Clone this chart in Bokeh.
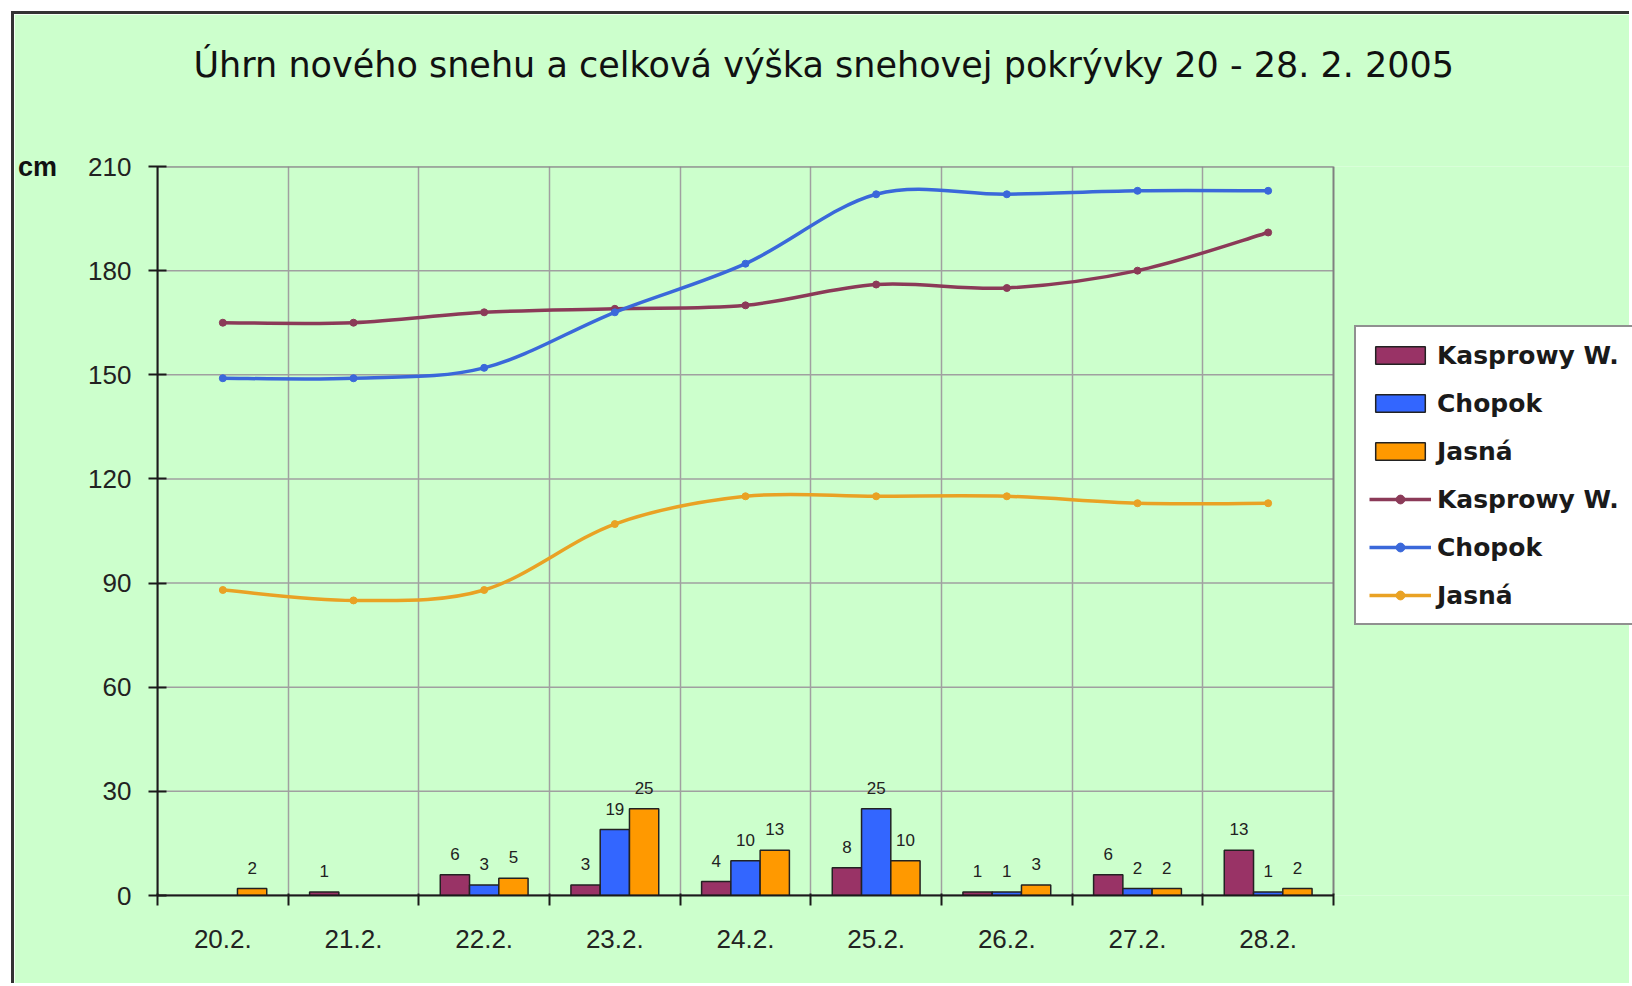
import numpy as np
from bokeh.plotting import figure
from bokeh.models import (Range1d, FixedTicker, ColumnDataSource, LabelSet, Title,
                          Legend, LegendItem)
from bokeh.core.properties import value
from bokeh.embed import file_html
from bokeh.resources import INLINE

# ---------------- data ----------------
dates = ["20.2.", "21.2.", "22.2.", "23.2.", "24.2.", "25.2.", "26.2.", "27.2.", "28.2."]
stations = ["Kasprowy W.", "Chopok", "Jasná"]

# new snow (cm) - bars
new_kasprowy = [None, 1, 6, 3, 4, 8, 1, 6, 13]
new_chopok = [None, None, 3, 19, 10, 25, 1, 2, 1]
new_jasna = [2, None, 5, 25, 13, 10, 3, 2, 2]

# total snow depth (cm) - lines
total_kasprowy = [165, 165, 168, 169, 170, 176, 175, 180, 191]
total_chopok = [149, 149, 152, 168, 182, 202, 202, 203, 203]
total_jasna = [88, 85, 88, 107, 115, 115, 115, 113, 113]

y_ticks = [0, 30, 60, 90, 120, 150, 180, 210]

title_text = "Úhrn nového snehu a celková výška snehovej pokrývky 20 - 28. 2. 2005"
unit_text = "cm"

bar_colors = ["#993366", "#3366FF", "#FF9900"]
line_colors = ["#8B3A58", "#3A68DA", "#E9A224"]
GREEN = "#CCFFCC"
GRID = "#a0a0a0"

# ---------------- layout numbers ----------------
W, H = 1618, 972
border_left, border_top, border_bottom = 143, 152, 91
plot_area_px = 1176                    # width of the drawn plot area
frame_px = W - border_left             # frame runs to the right edge (legend lives in it)
n = len(dates)
x_end = n * frame_px / plot_area_px

# ---------------- figure ----------------
p = figure(width=W, height=H,
           x_range=Range1d(0, x_end), y_range=Range1d(y_ticks[0], y_ticks[-1]),
           output_backend="svg", toolbar_location=None,
           min_border_left=border_left, min_border_top=border_top,
           min_border_right=0, min_border_bottom=border_bottom,
           background_fill_color=GREEN, border_fill_color=GREEN,
           outline_line_color=None,
           styles={"margin-left": "11px", "margin-top": "11px",
                   "border-left": "3px solid #333333", "border-top": "3px solid #333333"})

# spacer between frame and title, then the title itself
p.add_layout(Title(text=" ", text_font_size="1px", standoff=79), "above")
p.add_layout(Title(text=title_text, align="left", offset=36, standoff=0,
                   text_font="DejaVu Sans", text_font_size="35px", text_font_style="normal",
                   text_color="#111111"), "above")

centers = [i + 0.5 for i in range(n)]

# x axis: labels at category centres, tick marks at category boundaries
p.xaxis.bounds = (0, n)
p.xaxis.ticker = FixedTicker(ticks=centers, minor_ticks=list(range(n + 1)))
p.xaxis.major_label_overrides = {c: d for c, d in zip(centers, dates)}
p.xaxis.major_tick_line_color = None
p.xaxis.major_tick_out = 10
p.xaxis.major_tick_in = 0
p.xaxis.minor_tick_out = 10
p.xaxis.minor_tick_in = 2
p.xaxis.minor_tick_line_color = "#1a1a1a"
p.xaxis.minor_tick_line_width = 2
p.xaxis.axis_line_color = "#1a1a1a"
p.xaxis.axis_line_width = 2
p.xaxis.major_label_standoff = 24
p.xaxis.major_label_text_font = "Liberation Sans"
p.xaxis.major_label_text_font_size = "26px"
p.xaxis.major_label_text_color = "#222222"

p.yaxis.ticker = FixedTicker(ticks=y_ticks)
p.yaxis.major_tick_in = 9
p.yaxis.major_tick_out = 9
p.yaxis.major_tick_line_color = "#1a1a1a"
p.yaxis.major_tick_line_width = 2
p.yaxis.minor_tick_line_color = None
p.yaxis.axis_line_color = "#1a1a1a"
p.yaxis.axis_line_width = 2
p.yaxis.major_label_standoff = 17
p.yaxis.major_label_text_font = "Liberation Sans"
p.yaxis.major_label_text_font_size = "26px"
p.yaxis.major_label_text_color = "#222222"
p.yaxis.axis_label = unit_text
p.yaxis.axis_label_orientation = "horizontal"
p.yaxis.axis_label_align = "end"
p.yaxis.axis_label_standoff = 28
p.yaxis.axis_label_text_font = "Liberation Sans"
p.yaxis.axis_label_text_font_style = "bold"
p.yaxis.axis_label_text_font_size = "27px"
p.yaxis.axis_label_text_color = "#111111"

# vertical grid lines at category boundaries (built-in grid)
p.xgrid.ticker = FixedTicker(ticks=list(range(1, n)))
p.xgrid.grid_line_color = GRID
p.xgrid.grid_line_width = 1.5
# horizontal grid lines only across the plot area
p.ygrid.grid_line_color = None
p.segment(x0=[0] * len(y_ticks), x1=[n] * len(y_ticks), y0=y_ticks, y1=y_ticks,
          line_color=GRID, line_width=1.5)
# plot-area border
p.quad(left=[0], right=[n], bottom=[y_ticks[0]], top=[y_ticks[-1]],
       fill_color=None, line_color="#808080", line_width=2)

# ---------------- bars ----------------
bar_w = 0.224
offsets = [-bar_w, 0.0, bar_w]
bar_renderers = []
for series, off, col in zip([new_kasprowy, new_chopok, new_jasna], offsets, bar_colors):
    xs, tops, labs = [], [], []
    for c, v in zip(centers, series):
        if v is not None:
            xs.append(c + off)
            tops.append(v)
            labs.append(str(v))
    src = ColumnDataSource(dict(x=xs, top=tops, lab=labs))
    r = p.vbar(x="x", top="top", bottom=0, width=bar_w, source=src,
               fill_color=col, line_color="#222222", line_width=1.5)
    bar_renderers.append(r)
    p.add_layout(LabelSet(x="x", y="top", text="lab", source=src, y_offset=21,
                          text_align="center", text_baseline="middle",
                          text_font=value("Liberation Sans"), text_font_size="17px",
                          text_color="#222222"))

# ---------------- smoothed lines ----------------
line_renderers = []
for series, col in zip([total_kasprowy, total_chopok, total_jasna], line_colors):
    xs = np.array(centers, dtype=float)
    ys = np.array(series, dtype=float)
    m = len(xs)
    x0, y0, x1, y1, cx0, cy0, cx1, cy1 = ([] for _ in range(8))
    for i in range(m - 1):
        ip = max(i - 1, 0)
        inn = min(i + 2, m - 1)
        x0.append(xs[i]); y0.append(ys[i])
        x1.append(xs[i + 1]); y1.append(ys[i + 1])
        cx0.append(xs[i] + (xs[i + 1] - xs[ip]) / 6.0)
        cy0.append(ys[i] + (ys[i + 1] - ys[ip]) / 6.0)
        cx1.append(xs[i + 1] - (xs[inn] - xs[i]) / 6.0)
        cy1.append(ys[i + 1] - (ys[inn] - ys[i]) / 6.0)
    bsrc = ColumnDataSource(dict(x0=x0, y0=y0, x1=x1, y1=y1, cx0=cx0, cy0=cy0, cx1=cx1, cy1=cy1))
    bz = p.bezier(x0="x0", y0="y0", x1="x1", y1="y1", cx0="cx0", cy0="cy0", cx1="cx1", cy1="cy1",
                  source=bsrc, line_color=col, line_width=3.5)
    sc = p.scatter(x=centers, y=series, marker="circle", size=7,
                   fill_color=col, line_color=col)
    line_renderers.append([bz, sc])

# ---------------- legend ----------------
items = [LegendItem(label=s, renderers=[r]) for s, r in zip(stations, bar_renderers)]
items += [LegendItem(label=s, renderers=rs) for s, rs in zip(stations, line_renderers)]
legend = Legend(items=items, location=(1197, 270), orientation="vertical",
                background_fill_color="white", background_fill_alpha=1.0,
                border_line_color="#222222", border_line_width=2,
                padding=13, spacing=18, label_height=30, glyph_height=22, glyph_width=62,
                label_standoff=6, margin=0,
                label_text_font="DejaVu Sans", label_text_font_style="bold",
                label_text_font_size="25px", label_text_color="#1a1a1a")
p.add_layout(legend)

open("out.html", "w").write(file_html(p, INLINE))
